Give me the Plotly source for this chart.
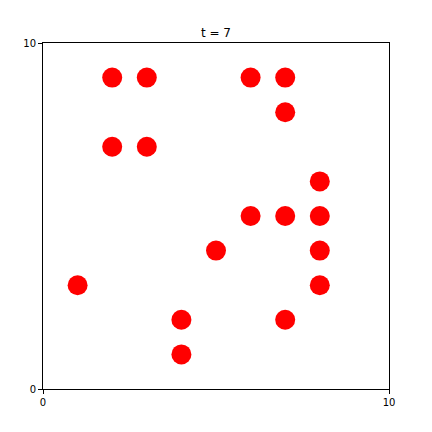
import plotly.graph_objects as go

xs = [2, 3, 6, 7, 7, 2, 3, 8, 6, 7, 8, 5, 8, 1, 8, 4, 7, 4]
ys = [9, 9, 9, 9, 8, 7, 7, 6, 5, 5, 5, 4, 4, 3, 3, 2, 2, 1]
tick_vals = [0, 10]
tick_text = ["0", "10"]

fig = go.Figure(go.Scatter(x=xs, y=ys, mode="markers",
                           marker=dict(color="red", size=20, line=dict(width=0))))
axis = dict(range=[0, 10], tickvals=tick_vals, ticktext=tick_text,
            showgrid=False, zeroline=False, showline=True, linecolor="black",
            linewidth=1, mirror=True, ticks="outside", ticklen=4,
            tickcolor="black", tickfont=dict(size=10, color="black",
                                             family="DejaVu Sans"))
fig.update_layout(
    width=432, height=432,
    margin=dict(l=43, r=43, t=43, b=43),
    plot_bgcolor="white", paper_bgcolor="white",
    title=dict(text="t = 7", x=0.5, xanchor="center", y=1 - 33/432, yanchor="middle",
               font=dict(size=12, color="black", family="DejaVu Sans")),
    xaxis=axis, yaxis=axis, showlegend=False,
)
fig.write_html("out.html")
